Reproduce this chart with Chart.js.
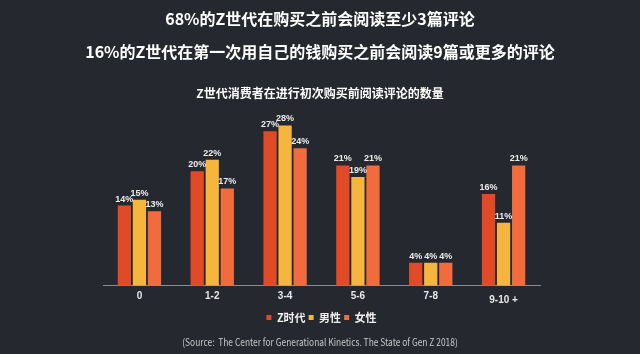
<!DOCTYPE html>
<html>
<head>
<meta charset="utf-8">
<script src="https://cdn.jsdelivr.net/npm/chart.js@4"></script>
<style>
  html, body { margin: 0; padding: 0; background: #262830; }
  #wrap { position: relative; width: 640px; height: 354px; overflow: hidden; }
  #chart { position: absolute; left: 0; top: 0; }
  .txt { position: absolute; left: 0; width: 640px; text-align: center; color: #fff;
         font-family: "Noto Sans CJK SC", sans-serif; white-space: nowrap; }
  #t1 { top: 6px; font-size: 16px; font-weight: bold; }
  #t2 { top: 39px; font-size: 16px; font-weight: bold; }
  #t3 { top: 84px; font-size: 12px; font-weight: bold; }
  #src { top: 334px; font-size: 10px; color: #c9c9c9; transform: scaleX(0.84); }
</style>
</head>
<body>
<div id="wrap">
  <canvas id="chart" width="640" height="354"></canvas>
  <div class="txt" id="t1">68%的Z世代在购买之前会阅读至少3篇评论</div>
  <div class="txt" id="t2">16%的Z世代在第一次用自己的钱购买之前会阅读9篇或更多的评论</div>
  <div class="txt" id="t3">Z世代消费者在进行初次购买前阅读评论的数量</div>
  <div class="txt" id="src">(Source:&nbsp; The Center for Generational Kinetics. The State of Gen Z 2018)</div>
</div>
<script>
// values (%)
const categories = ['0', '1-2', '3-4', '5-6', '7-8', '9-10 +'];
const genZ = [14, 20, 27, 21, 4, 16];
const male = [15, 22, 28, 19, 4, 11];
const female = [13, 17, 24, 21, 4, 21];

const valueLabels = {
    id: 'valueLabels',
    afterDatasetsDraw(chart) {
        const ctx = chart.ctx;
        ctx.save();
        ctx.font = 'bold 9px "Liberation Sans", sans-serif';
        ctx.fillStyle = '#ececec';
        ctx.textAlign = 'center';
        ctx.textBaseline = 'bottom';
        chart.data.datasets.forEach((ds, i) => {
            chart.getDatasetMeta(i).data.forEach((bar, j) => {
                ctx.fillText(ds.data[j] + '%', bar.x, bar.y - 2);
            });
        });
        ctx.restore();
    }
};

const tickFont = { family: '"Liberation Sans", sans-serif', size: 10, weight: 'bold' };

const ctx = document.getElementById('chart').getContext('2d');
new Chart(ctx, {
    type: 'bar',
    data: {
        labels: categories,
        datasets: [
            { label: 'Z时代', data: genZ, backgroundColor: '#e14a27' },
            { label: '男性', data: male, backgroundColor: '#f6b53d' },
            { label: '女性', data: female, backgroundColor: '#f16b3c' },
        ],
    },
    options: {
        responsive: false,
        animation: false,
        layout: { padding: { top: 114, left: 103, right: 100, bottom: 21 } },
        datasets: { bar: { categoryPercentage: 0.62, barPercentage: 0.88 } },
        scales: {
            y: { display: false, min: 0, max: 30 },
            x: {
                grid: { display: false, drawTicks: false },
                border: { color: '#8a8d96', width: 1 },
                ticks: {
                    color: '#e8e8e8',
                    padding: 5,
                    // last label sits a little lower in the original
                    callback: (v, i) => (i === 5 ? ['', categories[i]] : categories[i]),
                    font: (c) => Object.assign({}, tickFont, { lineHeight: c.index === 5 ? 0.667 : 1.2 }),
                },
            },
        },
        plugins: {
            tooltip: { enabled: false },
            legend: {
                position: 'bottom',
                labels: {
                    color: '#eeeeee',
                    boxWidth: 5,
                    boxHeight: 5,
                    padding: 3,
                    font: { family: '"Noto Sans CJK SC", sans-serif', size: 11, weight: 'bold' },
                },
            },
        },
    },
    plugins: [valueLabels],
});
</script>
</body>
</html>
